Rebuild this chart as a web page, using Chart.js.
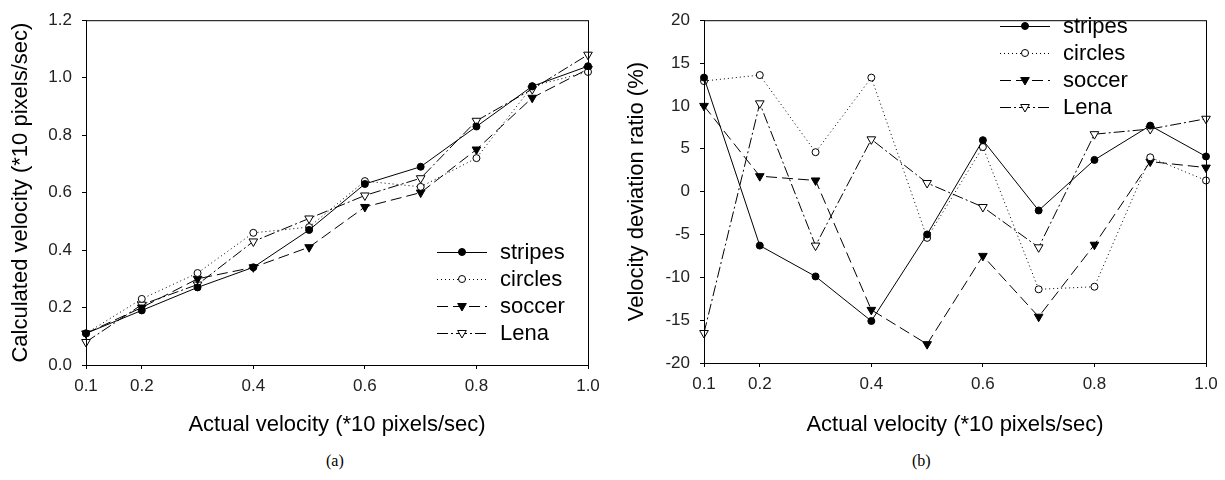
<!DOCTYPE html>
<html>
<head>
<meta charset="utf-8">
<title>Velocity charts</title>
<script src="https://cdn.jsdelivr.net/npm/chart.js@4/dist/chart.umd.min.js"></script>
<style>
  body { margin: 0; background: #fff; width: 1225px; height: 480px; position: relative; overflow: hidden; }
  .wrap { position: absolute; top: 0; height: 450px; }
  .cap { position: absolute; top: 452px; font: 16px "Liberation Serif", "Times New Roman", serif; color: #000; }
</style>
</head>
<body>
<div class="wrap" style="left:0;width:612px"><canvas id="chartA" width="612" height="450"></canvas></div>
<div class="wrap" style="left:612px;width:613px"><canvas id="chartB" width="613" height="450"></canvas></div>
<div class="cap" style="left:326px">(a)</div>
<div class="cap" style="left:912px">(b)</div>
<script>
// x values (actual velocity) and tick positions
const velocities = [0.1, 0.2, 0.3, 0.4, 0.5, 0.6, 0.7, 0.8, 0.9, 1.0];
const xTicks = [0.1, 0.2, 0.4, 0.6, 0.8, 1.0];
const seriesNames = ['stripes', 'circles', 'soccer', 'Lena'];

// (a) calculated velocity
const calcStripes = [0.11, 0.19, 0.27, 0.34, 0.47, 0.63, 0.69, 0.83, 0.97, 1.04];
const calcCircles = [0.11, 0.23, 0.32, 0.46, 0.48, 0.64, 0.62, 0.72, 0.97, 1.02];
const calcSoccer  = [0.11, 0.20, 0.30, 0.34, 0.41, 0.55, 0.60, 0.75, 0.93, 1.03];
const calcLena    = [0.08, 0.21, 0.28, 0.43, 0.51, 0.59, 0.65, 0.85, 0.96, 1.08];

// (b) velocity deviation ratio (%)
const devStripes = [13.3, -6.3, -9.9, -15.1, -5.0, 6.0, -2.2, 3.7, 7.7, 4.1];
const devCircles = [12.9, 13.6, 4.6, 13.3, -5.4, 5.2, -11.4, -11.1, 4.0, 1.3];
const devSoccer  = [10.0, 1.8, 1.3, -13.8, -17.8, -7.5, -14.6, -6.2, 3.5, 2.8];
const devLena    = [-16.5, 10.3, -6.3, 6.1, 1.0, -1.8, -6.5, 6.7, 7.3, 8.5];

const styles = [
    { borderDash: [], pointStyle: 'circle', pointRotation: 0, fill: '#000' },
    { borderDash: [1, 3], pointStyle: 'circle', pointRotation: 0, fill: '#fff' },
    { borderDash: [11, 5], pointStyle: 'triangle', pointRotation: 180, fill: '#000' },
    { borderDash: [11, 3, 2, 3], pointStyle: 'triangle', pointRotation: 180, fill: '#fff' }
];

function makeDatasets(seriesList) {
    return seriesList.map((vals, i) => ({
        label: seriesNames[i],
        data: vals.map((v, j) => ({ x: velocities[j], y: v })),
        borderColor: '#000',
        borderWidth: 1,
        borderDash: styles[i].borderDash,
        backgroundColor: styles[i].fill,
        pointStyle: styles[i].pointStyle,
        pointRotation: styles[i].pointRotation,
        pointRadius: styles[i].pointStyle === 'circle' ? 3.5 : 5,
        pointBorderColor: '#000',
        pointBackgroundColor: styles[i].fill,
        pointBorderWidth: 1,
        tension: 0,
        clip: false
    }));
}

// frame + custom legend (line sample with marker)
const framePlugin = {
    id: 'frame',
    afterDatasetsDraw(chart, args, opts) {
        const { ctx, chartArea: a } = chart;
        ctx.save();
        ctx.strokeStyle = '#000';
        ctx.lineWidth = 1;
        ctx.strokeRect(a.left + 0.5, a.top + 0.5, a.right - a.left, a.bottom - a.top);

        chart.data.datasets.forEach((ds, i) => {
            const y = opts.y + i * 27;
            ctx.beginPath();
            ctx.setLineDash(ds.borderDash);
            ctx.moveTo(opts.x, y + 0.5);
            ctx.lineTo(opts.x + 50, y + 0.5);
            ctx.stroke();
            ctx.setLineDash([]);
            ctx.fillStyle = ds.pointBackgroundColor;
            Chart.helpers.drawPoint(ctx, {
                pointStyle: ds.pointStyle,
                rotation: ds.pointRotation,
                radius: ds.pointRadius,
                borderWidth: 1
            }, opts.x + 25, y);
            ctx.fillStyle = '#000';
            ctx.font = '22px "Liberation Sans", Arial, sans-serif';
            ctx.textBaseline = 'middle';
            ctx.fillText(ds.label, opts.x + 63, y + 1);
        });
        ctx.restore();
    }
};

function makeChart(id, seriesList, cfg) {
    const ctx = document.getElementById(id).getContext('2d');
    return new Chart(ctx, {
        type: 'line',
        data: { datasets: makeDatasets(seriesList) },
        options: {
            responsive: false,
            animation: false,
            layout: { padding: { top: cfg.top, right: cfg.right, left: 0, bottom: 0 } },
            plugins: {
                legend: { display: false },
                tooltip: { enabled: false },
                frame: cfg.legend
            },
            scales: {
                x: {
                    type: 'linear',
                    min: 0.1,
                    max: 1.0,
                    afterBuildTicks: (s) => { s.ticks = xTicks.map(v => ({ value: v })); },
                    afterFit: (s) => { s.height = cfg.xHeight; },
                    ticks: {
                        color: '#222',
                        padding: 7,
                        font: { family: '"Liberation Sans", Arial, sans-serif', size: 17 },
                        callback: (v) => v.toFixed(1)
                    },
                    grid: { display: true, drawOnChartArea: false, tickLength: 4, color: '#000' },
                    border: { display: true, color: '#000' },
                    title: {
                        display: true,
                        text: 'Actual velocity (*10 pixels/sec)',
                        color: '#000',
                        padding: { top: 0, bottom: 12 },
                        font: { family: '"Liberation Sans", Arial, sans-serif', size: 22 }
                    }
                },
                y: {
                    min: cfg.yMin,
                    max: cfg.yMax,
                    afterFit: (s) => { s.width = cfg.yWidth; },
                    ticks: {
                        stepSize: cfg.yStep,
                        color: '#222',
                        padding: 10,
                        font: { family: '"Liberation Sans", Arial, sans-serif', size: 17 },
                        callback: cfg.yFormat
                    },
                    grid: { display: true, drawOnChartArea: false, tickLength: 4, color: '#000' },
                    border: { display: true, color: '#000' },
                    title: {
                        display: true,
                        text: cfg.yTitle,
                        color: '#000',
                        padding: { top: cfg.yTitlePad, bottom: 0 },
                        font: { family: '"Liberation Sans", Arial, sans-serif', size: 22 }
                    }
                }
            }
        },
        plugins: [framePlugin]
    });
}

makeChart('chartA', [calcStripes, calcCircles, calcSoccer, calcLena], {
    top: 13, right: 24, xHeight: 85, yWidth: 86, yTitlePad: 8,
    yMin: 0, yMax: 1.2, yStep: 0.2, yFormat: (v) => v.toFixed(1),
    yTitle: 'Calculated velocity (*10 pixels/sec)',
    legend: { x: 437, y: 252 }
});

makeChart('chartB', [devStripes, devCircles, devSoccer, devLena], {
    top: 12, right: 19, xHeight: 87, yWidth: 92, yTitlePad: 12,
    yMin: -20, yMax: 20, yStep: 5, yFormat: (v) => v,
    yTitle: 'Velocity deviation ratio (%)',
    legend: { x: 388, y: 26 }
});
</script>
</body>
</html>
